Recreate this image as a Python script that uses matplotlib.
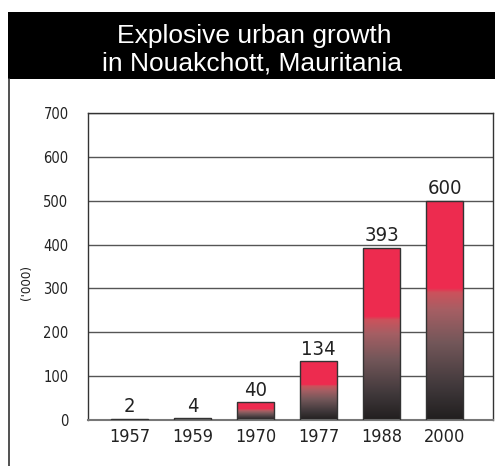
import matplotlib
matplotlib.use("Agg")
import matplotlib.pyplot as plt
import numpy as np
from matplotlib.colors import LinearSegmentedColormap
from matplotlib.patches import Rectangle
from matplotlib.lines import Line2D
from matplotlib import font_manager

years = ["1957", "1959", "1970", "1977", "1988", "2000"]
bar_heights = [2, 4, 40, 134, 393, 500]
bar_labels = ["2", "4", "40", "134", "393", "600"]
yticks = [0, 100, 200, 300, 400, 500, 600, 700]

cond = [f for f in font_manager.fontManager.ttflist if "Condensed" in f.fname or "Narrow" in f.fname]
fp_kw = {}
if cond:
    fp_path = sorted(cond, key=lambda f: ("Bold" in f.fname or "Oblique" in f.fname or "Italic" in f.fname, f.fname))[0].fname
else:
    fp_path = None

def tfont(size):
    if fp_path:
        return font_manager.FontProperties(fname=fp_path, size=size)
    return font_manager.FontProperties(family="DejaVu Sans", size=size)

fig = plt.figure(figsize=(4.95, 4.66), dpi=100)
fig.patch.set_facecolor("white")

# title band
fig.patches.append(Rectangle((8 / 495, 1 - 79 / 466), 1, 67 / 466, transform=fig.transFigure,
                             facecolor="black", edgecolor="none", zorder=0))
fig.text(254 / 495, 1 - 36 / 466, "Explosive urban growth", color="white", ha="center", va="center",
         fontsize=19, family="Liberation Sans")
fig.text(252 / 495, 1 - 63 / 466, "in Nouakchott, Mauritania", color="white", ha="center", va="center",
         fontsize=19, family="Liberation Sans")
fig.lines.append(Line2D([8.5 / 495, 8.5 / 495], [0, 1 - 79 / 466], transform=fig.transFigure,
                        color="#333333", lw=1.2))

ax = fig.add_axes([88 / 495, 46 / 466, (493 - 88) / 495, (420 - 113) / 466])
ax.set_xlim(-0.66, 5.77)
ax.set_ylim(0, 700)
ax.set_yticks(yticks)
ax.set_yticklabels([str(t) for t in yticks], fontproperties=tfont(10.5), color="#222222")
x = np.arange(len(years))
ax.set_xticks(x)
ax.set_xticklabels(years, fontproperties=tfont(13), color="#222222")
ax.tick_params(axis="y", length=0, pad=14)
ax.tick_params(axis="x", length=0, pad=6)
ax.yaxis.grid(True, color="#555555", lw=1)
ax.set_axisbelow(True)
for s in ["left", "top", "right"]:
    ax.spines[s].set_color("#333333")
    ax.spines[s].set_linewidth(1)
ax.spines["bottom"].set_color("#777777")
ax.spines["bottom"].set_linewidth(1.5)

cmap = LinearSegmentedColormap.from_list("g", [
    (0.0, (0.13, 0.12, 0.12)),
    (0.15, (0.25, 0.22, 0.23)),
    (0.35, (0.45, 0.34, 0.35)),
    (0.50, (0.65, 0.37, 0.39)),
    (0.58, (0.80, 0.32, 0.36)),
    (0.60, (0.93, 0.17, 0.31)),
    (1.0, (0.93, 0.17, 0.31)),
])
grad = np.linspace(0, 1, 256).reshape(-1, 1)
w = 0.6
bars = ax.bar(x, bar_heights, width=w, facecolor="none", edgecolor="#333333", lw=1, zorder=3)
for xi, h, b, lab in zip(x, bar_heights, bars, bar_labels):
    im = ax.imshow(grad, cmap=cmap, origin="lower", aspect="auto",
                   extent=[xi - w / 2, xi + w / 2, 0, h], zorder=2, interpolation="bilinear")
    im.set_clip_path(b)
    ax.text(xi, h + 6, lab, ha="center", va="bottom", fontproperties=tfont(14.5), color="#222222")
ax.set_xlim(-0.66, 5.77)
ax.set_ylim(0, 700)

fig.text(27 / 495, 1 - 283 / 466, "('000)", rotation=90, ha="center", va="center",
         fontproperties=tfont(9.5), color="#222222")

fig.savefig("out.png", dpi=100)
